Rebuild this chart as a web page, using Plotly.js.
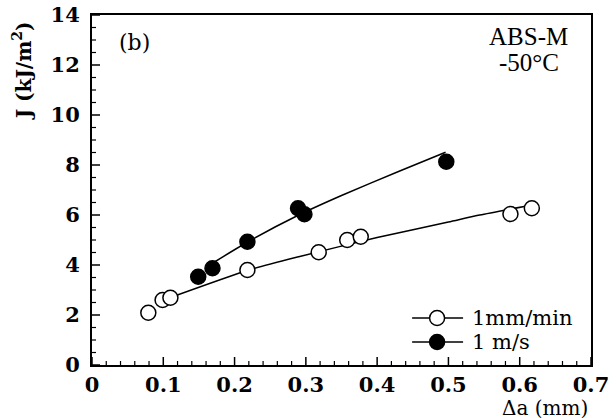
<!DOCTYPE html>
<html>
<head>
<meta charset="utf-8">
<script src="https://cdn.plot.ly/plotly-3.0.1.min.js"></script>
<style>html,body{margin:0;padding:0;background:#fff;}#chart{width:616px;height:418px;}</style>
</head>
<body>
<div id="chart"></div>
<script>
// Data
const slowX = [0.079, 0.099, 0.110, 0.218, 0.318, 0.358, 0.377, 0.587, 0.617];
const slowY = [2.09, 2.60, 2.69, 3.80, 4.51, 5.00, 5.13, 6.04, 6.27];
const fastX = [0.149, 0.169, 0.218, 0.289, 0.298, 0.497];
const fastY = [3.53, 3.87, 4.93, 6.27, 6.03, 8.13];
// Fitted curves
const slowFitX = [0.11, 0.22, 0.29, 0.40, 0.50, 0.544, 0.61];
const slowFitY = [2.70, 3.80, 4.33, 5.10, 5.72, 6.00, 6.36];
const fastFitX = [0.165, 0.22, 0.29, 0.35, 0.43, 0.496];
const fastFitY = [4.00, 4.95, 6.00, 6.78, 7.74, 8.51];
const legendLabels = ["1mm/min", "1 m/s"];
const xTicks = [0, 0.1, 0.2, 0.3, 0.4, 0.5, 0.6, 0.7];
const yTicks = [0, 2, 4, 6, 8, 10, 12, 14];
const xRange = [0, 0.7];
const yRange = [0, 14];

const serif = "DejaVu Serif";
const times = "Liberation Serif";

const traces = [
  {x: slowFitX, y: slowFitY, mode: 'lines', line: {color: '#000', width: 1.5, shape: 'spline', smoothing: 0.6}, showlegend: false, hoverinfo: 'skip'},
  {x: fastFitX, y: fastFitY, mode: 'lines', line: {color: '#000', width: 1.5, shape: 'spline', smoothing: 0.6}, showlegend: false, hoverinfo: 'skip'},
  {x: slowX, y: slowY, mode: 'markers', name: legendLabels[0], showlegend: false,
   marker: {symbol: 'circle', size: 15, color: '#fff', line: {color: '#000', width: 1.5}}},
  {x: fastX, y: fastY, mode: 'markers', name: legendLabels[1], showlegend: false,
   marker: {symbol: 'circle', size: 15, color: '#000', line: {color: '#000', width: 1.5}}}
];

function px2x(p){ return (p - 91.7) / 499.3; }
function py2y(p){ return (365 - p) / 350; }

const shapes = [];
// Inside tick marks on the bottom and left axes, placed through the data scales
const xMinorCount = 35, yMinorCount = 28;
for (let i = 0; i <= xMinorCount; i++) {
  const v = i * (xRange[1] / xMinorCount);
  const major = i % 5 === 0;
  shapes.push({type: 'line', xref: 'x', yref: 'paper', ysizemode: 'pixel', yanchor: 0,
    x0: v, x1: v, y0: 0, y1: major ? 8 : 4, line: {color: '#000', width: major ? 1.5 : 1.2}});
}
for (let i = 0; i <= yMinorCount; i++) {
  const v = i * (yRange[1] / yMinorCount);
  const major = i % 4 === 0;
  shapes.push({type: 'line', xref: 'paper', yref: 'y', xsizemode: 'pixel', xanchor: 0,
    y0: v, y1: v, x0: 0, x1: major ? 8 : 4, line: {color: '#000', width: major ? 1.5 : 1.2}});
}
// Key drawn to match the reference's unboxed legend
const legendRows = [318, 342];
const legendFill = ['#fff', '#000'];
legendRows.forEach((r, i) => {
  shapes.push({type: 'line', xref: 'paper', yref: 'paper', x0: px2x(412), x1: px2x(463), y0: py2y(r), y1: py2y(r), line: {color: '#000', width: 1.5}});
  shapes.push({type: 'circle', xref: 'paper', yref: 'paper', xsizemode: 'pixel', ysizemode: 'pixel',
    xanchor: px2x(437), yanchor: py2y(r), x0: -7.5, x1: 7.5, y0: -7.5, y1: 7.5,
    fillcolor: legendFill[i], line: {color: '#000', width: 1.5}});
});

function ann(text, xp, yp, size, family, extra){
  return Object.assign({text: text, xref: 'paper', yref: 'paper', x: px2x(xp), y: py2y(yp),
    xanchor: 'center', yanchor: 'middle', showarrow: false, font: {family: family, size: size, color: '#000'}}, extra || {});
}

const annotations = [
  ann('(b)', 134, 42, 22, serif),
  ann('ABS-M', 528, 36, 25, times),
  ann('-50°C', 529, 63, 25, times),
  ann(legendLabels[0], 470, 318, 21, serif, {xanchor: 'left'}),
  ann(legendLabels[1], 470, 342, 21, serif, {xanchor: 'left'}),
  ann('<b>J (kJ/m<sup>2</sup>)</b>', 22, 71, 20, serif, {textangle: -90}),
  ann('Δa (mm)', 590, 408, 20, serif, {xanchor: 'right'})
];

const axisCommon = {
  showline: true, linecolor: 'black', linewidth: 2, mirror: true,
  showgrid: false, zeroline: false, ticks: '',
  tickfont: {family: serif, size: 21, color: '#000', weight: 'bold'}
};

const layout = {
  width: 616, height: 418,
  margin: {l: 92, r: 25, t: 15, b: 53},
  showlegend: false,
  xaxis: Object.assign({}, axisCommon, {range: xRange, tickvals: xTicks, ticktext: xTicks.map(String)}),
  yaxis: Object.assign({}, axisCommon, {range: yRange, tickvals: yTicks, ticktext: yTicks.map(String), ticklabelstandoff: 6}),
  shapes: shapes,
  annotations: annotations
};

Plotly.newPlot('chart', traces, layout, {displayModeBar: false});
</script>
</body>
</html>
